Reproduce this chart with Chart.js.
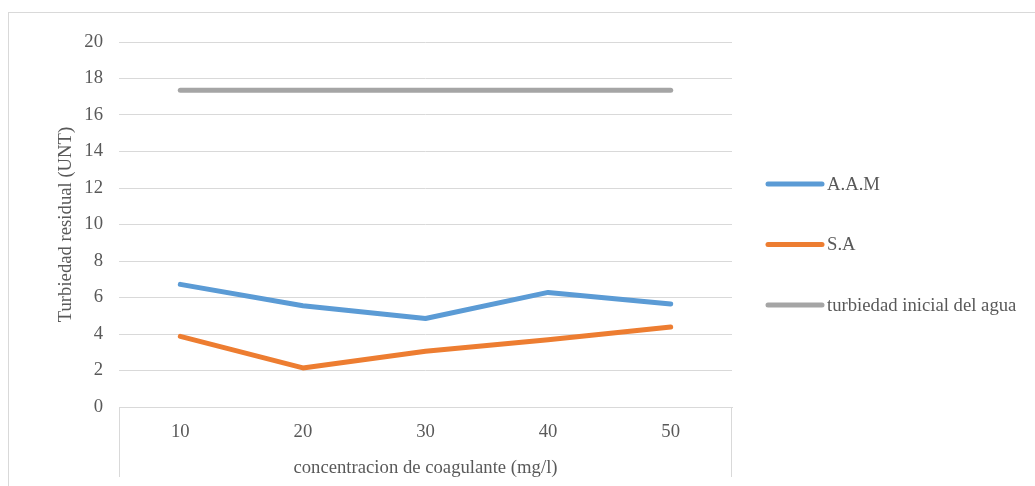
<!DOCTYPE html>
<html lang="es">
<head>
<meta charset="utf-8">
<title>Turbiedad residual</title>
<script src="https://cdn.jsdelivr.net/npm/chart.js@4.4.1/dist/chart.umd.min.js"></script>
<style>
  html, body { margin: 0; padding: 0; background: #ffffff; overflow: hidden; }
  body { width: 1035px; height: 486px; position: relative; }
  #marco { position: absolute; left: 8px; top: 12px; width: 1200px; height: 600px;
           border: 1px solid #d9d9d9; box-sizing: border-box; }
  #lienzo { position: absolute; left: 0; top: 0; width: 1035px; height: 486px; }
</style>
</head>
<body>
<div id="marco"></div>
<div id="lienzo"><canvas id="grafico" width="1035" height="486"></canvas></div>
<script>
// Concentración de coagulante (mg/l)
const concentraciones = ['10', '20', '30', '40', '50'];
// Turbiedad residual (UNT) por coagulante
const aam = [6.72, 5.55, 4.85, 6.28, 5.64];
const sa = [3.87, 2.14, 3.05, 3.68, 4.38];
// Turbiedad inicial del agua (UNT)
const inicial = [17.35, 17.35, 17.35, 17.35, 17.35];
// Marcas del eje vertical
const marcasY = [0, 2, 4, 6, 8, 10, 12, 14, 16, 18, 20];

const nombres = ['A.A.M', 'S.A', 'turbiedad inicial del agua'];
const colores = ['#5b9bd5', '#ed7d31', '#a5a5a5'];

const fuente = "'Liberation Serif', 'Times New Roman', serif";
const tam = 18.7;
const gris = '#595959';
const rejilla = '#d9d9d9';

// Caja del eje de categorías: líneas verticales a ambos lados bajo el área de trazado
const cajaEje = {
  id: 'cajaEje',
  afterDraw(chart) {
    const {ctx, chartArea} = chart;
    const x = chart.scales.x;
    ctx.save();
    ctx.strokeStyle = rejilla;
    ctx.lineWidth = 1;
    ctx.beginPath();
    ctx.moveTo(Math.round(chartArea.left) + 0.5, chartArea.bottom);
    ctx.lineTo(Math.round(chartArea.left) + 0.5, x.bottom - 9);
    ctx.moveTo(Math.round(chartArea.right) - 0.5, chartArea.bottom);
    ctx.lineTo(Math.round(chartArea.right) - 0.5, x.bottom - 9);
    ctx.stroke();
    ctx.restore();
  }
};

// Leyenda a la derecha con trazos de línea redondeados
const leyenda = {
  id: 'leyenda',
  afterDraw(chart) {
    const {ctx, chartArea} = chart;
    const x0 = chartArea.right + 36;
    const largo = 54;
    const y0 = 184;
    const paso = 60.5;
    ctx.save();
    ctx.font = tam + 'px ' + fuente;
    ctx.textBaseline = 'middle';
    ctx.textAlign = 'left';
    chart.data.datasets.forEach((ds, i) => {
      const y = y0 + i * paso;
      ctx.strokeStyle = ds.borderColor;
      ctx.lineWidth = 5;
      ctx.lineCap = 'round';
      ctx.beginPath();
      ctx.moveTo(x0, y);
      ctx.lineTo(x0 + largo, y);
      ctx.stroke();
      ctx.fillStyle = gris;
      ctx.fillText(ds.label, x0 + largo + 5, y + 1);
    });
    ctx.restore();
  }
};

const series = [aam, sa, inicial].map((datos, i) => ({
  label: nombres[i],
  data: datos,
  borderColor: colores[i],
  backgroundColor: colores[i],
  borderWidth: 5,
  borderCapStyle: 'round',
  borderJoinStyle: 'round',
  pointRadius: 0,
  pointHoverRadius: 0,
  tension: 0,
  fill: false
}));

new Chart(document.getElementById('grafico'), {
  type: 'line',
  data: { labels: concentraciones, datasets: series },
  plugins: [cajaEje, leyenda],
  options: {
    responsive: false,
    animation: false,
    devicePixelRatio: 1,
    layout: { padding: { left: 0, right: 303, top: 42, bottom: 0 } },
    plugins: {
      legend: { display: false },
      tooltip: { enabled: false },
      title: { display: false }
    },
    scales: {
      x: {
        type: 'category',
        offset: true,
        grid: { display: false, drawTicks: false },
        border: { display: true, color: rejilla, width: 1 },
        ticks: { color: gris, font: { family: fuente, size: tam }, padding: 14, maxRotation: 0 },
        title: {
          display: true,
          text: 'concentracion de coagulante (mg/l)',
          color: gris,
          font: { family: fuente, size: tam },
          padding: { top: 0, bottom: 7 }
        },
        afterFit(scale) { scale.height = 79; }
      },
      y: {
        min: 0,
        max: 20,
        afterBuildTicks(scale) { scale.ticks = marcasY.map(v => ({ value: v })); },
        grid: { color: rejilla, lineWidth: 1, drawTicks: false },
        border: { display: false },
        ticks: { color: gris, font: { family: fuente, size: tam }, padding: 16 },
        title: {
          display: true,
          text: 'Turbiedad residual (UNT)',
          color: gris,
          font: { family: fuente, size: tam },
          padding: { top: 55, bottom: 0 }
        },
        afterFit(scale) { scale.width = 119; }
      }
    }
  }
});
</script>
</body>
</html>
